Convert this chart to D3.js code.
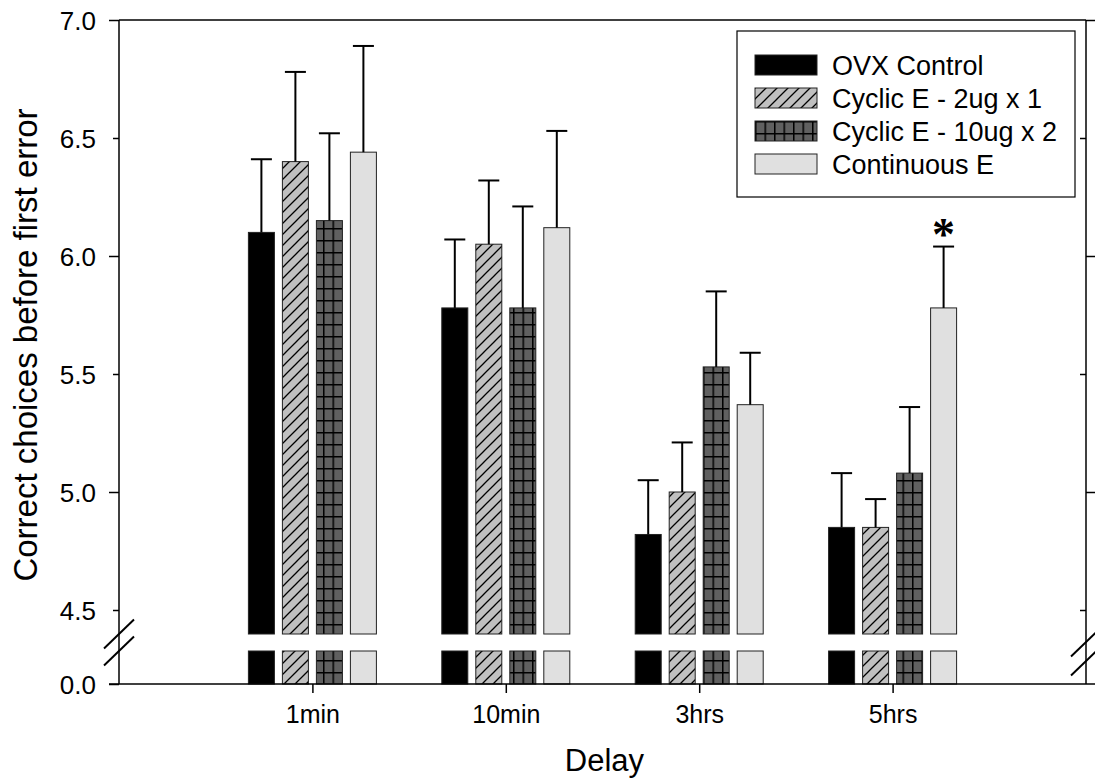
<!DOCTYPE html>
<html>
<head>
<meta charset="utf-8">
<script src="https://cdn.jsdelivr.net/npm/d3@7"></script>
<style>
  body { margin: 0; background: #fff; }
  text { font-family: "Liberation Sans", Arial, sans-serif; fill: #000; }
</style>
</head>
<body>
<div id="chart"></div>
<script>
//////////////////////// Data ////////////////////////
const delays = ["1min", "10min", "3hrs", "5hrs"];
const groups = ["OVX Control", "Cyclic E - 2ug x 1", "Cyclic E - 10ug x 2", "Continuous E"];

// bar heights (means) per group, in delay order
const meanOVX   = [6.10, 5.78, 4.82, 4.85];
const meanCyc2  = [6.40, 6.05, 5.00, 4.85];
const meanCyc10 = [6.15, 5.78, 5.53, 5.08];
const meanCont  = [6.44, 6.12, 5.37, 5.78];

// upper error bars (SEM)
const semOVX   = [0.31, 0.29, 0.23, 0.23];
const semCyc2  = [0.38, 0.27, 0.21, 0.12];
const semCyc10 = [0.37, 0.43, 0.32, 0.28];
const semCont  = [0.45, 0.41, 0.22, 0.26];

const yTicksUpper = [4.5, 5.0, 5.5, 6.0, 6.5, 7.0];
const yTicksLower = [0.0];
const starMarks = [{delay: "5hrs", group: "Continuous E"}];

const means = [meanOVX, meanCyc2, meanCyc10, meanCont];
const sems = [semOVX, semCyc2, semCyc10, semCont];
const data = [];
delays.forEach((d, i) => groups.forEach((g, j) => {
  data.push({delay: d, group: g, mean: means[j][i], sem: sems[j][i]});
}));

//////////////////////// Layout ////////////////////////
const width = 1095;
const height = 779;
const plotLeft = 119, plotRight = 1086, plotTop = 20, plotBottom = 684;
const breakTop = 634, breakBottom = 651;

const svg = d3.select("#chart").append("svg")
  .attr("width", width)
  .attr("height", height);

// patterns
const defs = svg.append("defs");
const hatch = defs.append("pattern")
  .attr("id", "hatch").attr("patternUnits", "userSpaceOnUse")
  .attr("width", 11).attr("height", 11);
hatch.append("rect").attr("width", 11).attr("height", 11).attr("fill", "#c0c0c0");
hatch.append("path")
  .attr("d", "M0,11 L11,0 M-3,3 L3,-3 M8,14 L14,8")
  .attr("stroke", "#000").attr("stroke-width", 1.3);

const grid = defs.append("pattern")
  .attr("id", "grid").attr("patternUnits", "userSpaceOnUse")
  .attr("width", 9.5).attr("height", 12);
grid.append("rect").attr("width", 9.5).attr("height", 12).attr("fill", "#606060");
grid.append("path")
  .attr("d", "M0.75,0 V12 M0,0.75 H9.5")
  .attr("stroke", "#000").attr("stroke-width", 1.5);

const fills = {
  "OVX Control": "#000",
  "Cyclic E - 2ug x 1": "url(#hatch)",
  "Cyclic E - 10ug x 2": "url(#grid)",
  "Continuous E": "#e0e0e0"
};

//////////////////////// Scales ////////////////////////
const x = d3.scalePoint().domain(delays).range([plotLeft, plotRight]).padding(1);
const xInner = d3.scaleBand().domain(groups).range([-68, 68])
  .paddingInner(8 / 34).paddingOuter(4 / 34);

const yUpper = d3.scaleLinear().domain([4.4, 7.0]).range([breakTop - 0.4, plotTop]);
const yLower = d3.scaleLinear().domain([0, 0.14]).range([plotBottom, breakBottom]);

//////////////////////// Bars ////////////////////////
const bars = svg.append("g");
const barX = d => x(d.delay) + xInner(d.group);

// upper part of the bars
bars.selectAll(".bar-upper")
  .data(data)
  .join("rect")
    .attr("class", "bar-upper")
    .attr("x", barX)
    .attr("width", xInner.bandwidth())
    .attr("y", d => yUpper(d.mean))
    .attr("height", d => breakTop - yUpper(d.mean))
    .attr("fill", d => fills[d.group])
    .attr("stroke", "#222")
    .attr("stroke-width", 1);

// lower stub of the bars, below the axis break
bars.selectAll(".bar-lower")
  .data(data)
  .join("rect")
    .attr("class", "bar-lower")
    .attr("x", barX)
    .attr("width", xInner.bandwidth())
    .attr("y", breakBottom)
    .attr("height", plotBottom - breakBottom)
    .attr("fill", d => fills[d.group])
    .attr("stroke", "#222")
    .attr("stroke-width", 1);

// error bars (upper only)
const err = bars.selectAll(".err")
  .data(data)
  .join("g")
    .attr("class", "err")
    .attr("transform", d => `translate(${barX(d) + xInner.bandwidth() / 2},0)`);
err.append("line")
  .attr("y1", d => yUpper(d.mean))
  .attr("y2", d => yUpper(d.mean + d.sem))
  .attr("stroke", "#000").attr("stroke-width", 2);
err.append("line")
  .attr("x1", -10.5).attr("x2", 10.5)
  .attr("y1", d => yUpper(d.mean + d.sem))
  .attr("y2", d => yUpper(d.mean + d.sem))
  .attr("stroke", "#000").attr("stroke-width", 2);

// significance star
svg.selectAll(".star")
  .data(starMarks)
  .join("text")
    .attr("class", "star")
    .attr("x", d => x(d.delay) + xInner(d.group) + xInner.bandwidth() / 2)
    .attr("y", d => {
      const row = data.find(r => r.delay === d.delay && r.group === d.group);
      return yUpper(row.mean + row.sem) + 3;
    })
    .attr("text-anchor", "middle")
    .style("font-family", "'Liberation Serif', 'Times New Roman', serif")
    .style("font-weight", "bold")
    .style("font-size", "46px")
    .text("*");

//////////////////////// Axes ////////////////////////
const fmt = d3.format(".1f");
const tickLen = d => (Math.abs(d - Math.round(d)) < 1e-6 ? 10 : 6);

const yAxisUpper = svg.append("g")
  .attr("transform", `translate(${plotLeft},0)`)
  .call(d3.axisLeft(yUpper).tickValues(yTicksUpper).tickFormat(fmt));
const yAxisLower = svg.append("g")
  .attr("transform", `translate(${plotLeft},0)`)
  .call(d3.axisLeft(yLower).tickValues(yTicksLower).tickFormat(fmt));
[yAxisUpper, yAxisLower].forEach(a => {
  a.select(".domain").remove();
  a.selectAll(".tick line").attr("x2", d => -tickLen(d)).attr("stroke", "#000").attr("stroke-width", 1.5);
  a.selectAll(".tick text").attr("x", -23).attr("dy", "0.36em")
    .style("font-size", "26px").style("font-family", "'Liberation Sans', Arial, sans-serif");
});

// right axis: majors outward, minors inward
const yAxisRight = svg.append("g")
  .attr("transform", `translate(${plotRight},0)`)
  .call(d3.axisRight(yUpper).tickValues(yTicksUpper).tickFormat(""));
yAxisRight.select(".domain").remove();
yAxisRight.selectAll(".tick line")
  .attr("x2", d => (tickLen(d) === 10 ? 9 : -6))
  .attr("stroke", "#000").attr("stroke-width", 1.5);

const xAxis = svg.append("g")
  .attr("transform", `translate(0,${plotBottom})`)
  .call(d3.axisBottom(x).tickSize(9).tickSizeOuter(0));
xAxis.select(".domain").remove();
xAxis.selectAll(".tick line").attr("stroke", "#000").attr("stroke-width", 1.5);
xAxis.selectAll(".tick text").attr("y", 21).attr("dy", "0.71em")
  .style("font-size", "25px").style("font-family", "'Liberation Sans', Arial, sans-serif");

// frame lines
const frame = svg.append("g").attr("stroke", "#000").attr("stroke-width", 1.5).attr("fill", "none");
frame.append("line").attr("x1", plotLeft).attr("x2", plotLeft).attr("y1", plotTop).attr("y2", plotBottom);
frame.append("line").attr("x1", plotRight).attr("x2", plotRight).attr("y1", plotTop).attr("y2", plotBottom);
frame.append("line").attr("x1", plotLeft).attr("x2", plotRight).attr("y1", plotTop).attr("y2", plotTop);
frame.append("line").attr("x1", plotLeft - 10).attr("x2", plotRight + 9).attr("y1", plotBottom).attr("y2", plotBottom);

// axis break marks
const breakMarks = [
  {cx: plotLeft, cy: breakTop}, {cx: plotLeft, cy: breakBottom},
  {cx: plotRight, cy: breakTop + 8}, {cx: plotRight, cy: breakBottom + 10}
];
svg.append("g").selectAll("line")
  .data(breakMarks)
  .join("line")
    .attr("x1", d => d.cx - 15).attr("y1", d => d.cy + 14.5)
    .attr("x2", d => d.cx + 15).attr("y2", d => d.cy - 14.5)
    .attr("stroke", "#000").attr("stroke-width", 2);

// axis titles
svg.append("text")
  .attr("transform", `translate(37,345)rotate(-90)`)
  .attr("text-anchor", "middle")
  .style("font-size", "33px")
  .text("Correct choices before first error");
svg.append("text")
  .attr("x", (plotLeft + plotRight) / 2 + 2)
  .attr("y", 771)
  .attr("text-anchor", "middle")
  .style("font-size", "31px")
  .text("Delay");

//////////////////////// Legend ////////////////////////
const legend = svg.append("g");
legend.append("rect")
  .attr("x", 737).attr("y", 31)
  .attr("width", 338).attr("height", 166)
  .attr("fill", "#fff").attr("stroke", "#000").attr("stroke-width", 1.2);
const items = legend.selectAll(".item")
  .data(groups)
  .join("g")
    .attr("class", "item")
    .attr("transform", (d, i) => `translate(755,${55 + i * 33})`);
items.append("rect")
  .attr("width", 62).attr("height", 20)
  .attr("fill", d => fills[d])
  .attr("stroke", "#222").attr("stroke-width", 1);
items.append("text")
  .attr("x", 77).attr("y", 20)
  .style("font-size", "27px")
  .text(d => d);
</script>
</body>
</html>
